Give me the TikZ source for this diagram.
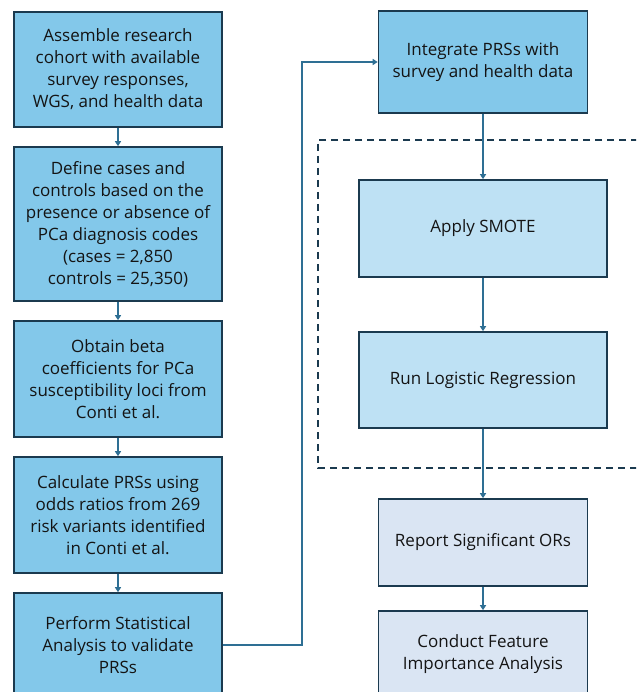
\documentclass[tikz,border=0pt]{standalone}
\usepackage{fontspec}
\setmainfont{Open Sans}
\usetikzlibrary{arrows.meta}
\definecolor{fillA}{HTML}{83C8EA}
\definecolor{fillB}{HTML}{BEE1F4}
\definecolor{fillC}{HTML}{DAE5F3}
\definecolor{bord}{HTML}{1B3A4F}
\definecolor{arr}{HTML}{2E6F94}
\definecolor{txt}{HTML}{141414}
\tikzset{
  box/.style={draw=bord, line width=1.6pt, rectangle, align=center, text=txt,
    font=\fontsize{17}{22}\selectfont, inner sep=0pt},
  lbox/.style={box, fill=fillA, minimum width=208pt},
  flow/.style={draw=arr, line width=1.4pt, -{Triangle[length=5pt,width=6pt]}},
}
\begin{document}
\begin{tikzpicture}[x=1pt,y=-1pt]
\clip (0,0) rectangle (636,692);
\fill[white] (0,0) rectangle (636,692);
\node[lbox, minimum height=115pt] (b1) at (118,69.5) {Assemble research\\cohort with available\\survey responses,\\WGS, and health data};
\node[lbox, minimum height=154pt] (b2) at (118,224) {Define cases and\\controls based on the\\presence or absence of\\PCa diagnosis codes\\(cases = 2,850\\controls = 25,350)};
\node[lbox, minimum height=116pt] (b3) at (118,379) {Obtain beta\\coefficients for PCa\\susceptibility loci from\\Conti et al.};
\node[lbox, minimum height=116pt] (b4) at (118,515) {Calculate PRSs using\\odds ratios from 269\\risk variants identified\\in Conti et al.};
\node[lbox, minimum height=104pt] (b5) at (118,645) {Perform Statistical\\Analysis to validate\\PRSs};
\node[box, fill=fillA, minimum width=209pt, minimum height=102pt] (int) at (483,62) {Integrate PRSs with\\survey and health data};
\draw[bord, line width=1.3pt, dash pattern=on 7pt off 5pt] (650,140) -- (318,140) -- (318,468) -- (650,468);
\node[box, fill=fillB, minimum width=248pt, minimum height=97pt] (sm) at (483,228.5) {Apply SMOTE};
\node[box, fill=fillB, minimum width=248pt, minimum height=96pt] (lr) at (483,380) {Run Logistic Regression};
\node[box, fill=fillC, minimum width=209pt, minimum height=87pt] (rep) at (483,542.5) {Report Significant ORs};
\node[box, fill=fillC, minimum width=209pt, minimum height=86pt] (cfa) at (483,654) {Conduct Feature\\Importance Analysis};
\draw[flow] (b1) -- (b2);
\draw[flow] (b2) -- (b3);
\draw[flow] (b3) -- (b4);
\draw[flow] (b4) -- (b5);
\coordinate (turn) at (302,645);
\draw[flow] (b5.east) -- (turn) |- (int.west);
\draw[flow] (int) -- (sm);
\draw[flow] (sm) -- (lr);
\draw[flow] (lr) -- (rep);
\draw[flow] (rep) -- (cfa);
\end{tikzpicture}
\end{document}
